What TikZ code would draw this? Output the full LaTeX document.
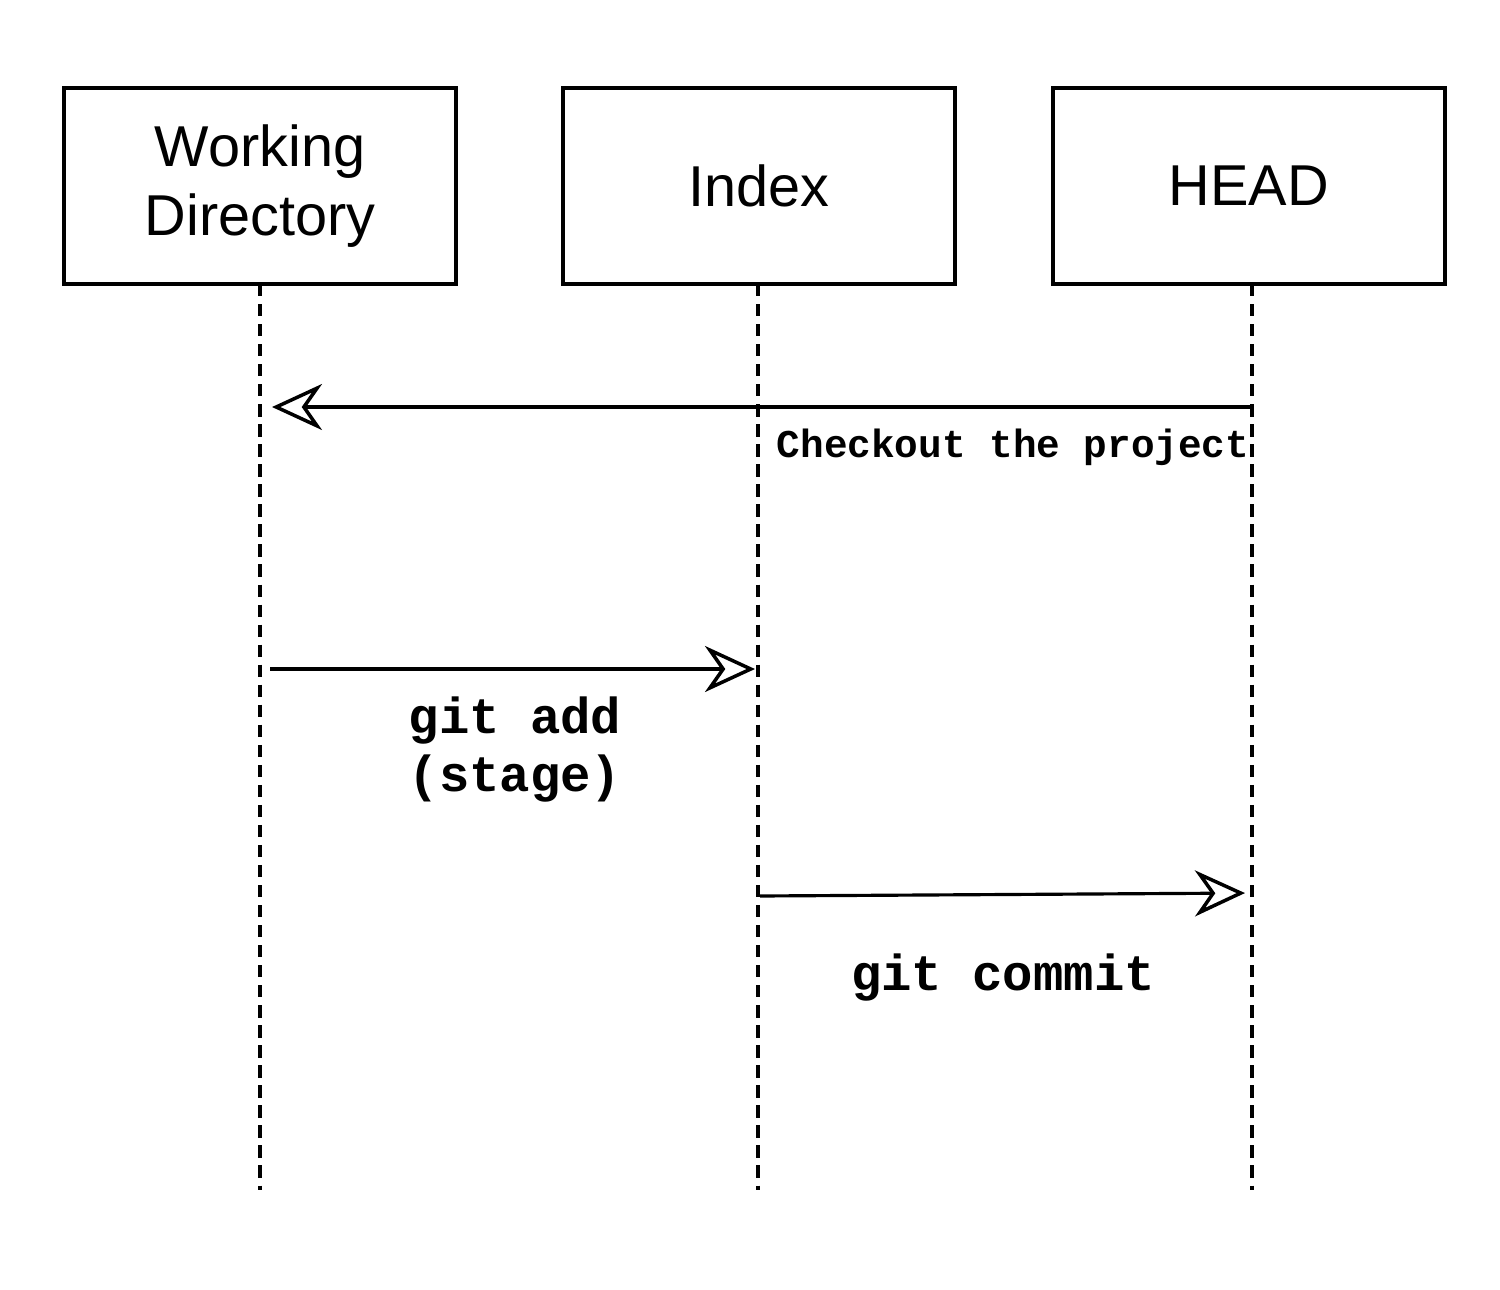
\documentclass[tikz,border=0pt]{standalone}
\usepackage{fontspec}
\setmainfont{Liberation Sans}
\newfontfamily\codefont{Liberation Mono}
\usetikzlibrary{arrows.meta}
\usetikzlibrary{positioning}
\tikzstyle{lane}=[rectangle,draw,line width=0.9pt,minimum width=3.92cm,minimum height=1.96cm,inner sep=0pt,align=center,font=\fontsize{16.4}{19.4}\selectfont]
\tikzstyle{lifeline}=[draw,line width=0.9pt,dash pattern=on 3.5pt off 2.2pt]
\tikzstyle{msg}=[draw,line width=0.9pt,-{Stealth[open,length=5mm,width=4.6mm,inset=1.6mm,line width=1pt]}]
\tikzstyle{msglabel}=[font=\codefont\bfseries\fontsize{14.4}{16.5}\selectfont,align=center,inner sep=0pt]
\tikzstyle{smalllabel}=[font=\codefont\bfseries\fontsize{11.2}{13}\selectfont,inner sep=0pt]

\begin{document}
\begin{tikzpicture}
    \useasboundingbox (0,0) rectangle (15,-12.89);

    \foreach \pos/\name/\label in {{(2.60,-1.86)/wd/Working\\Directory}, {(7.59,-1.86)/idx/Index}, {(12.49,-1.86)/head/HEAD}}
        \node[lane] (\name) at \pos {\label};

    % lifelines
    \foreach \name/\x in {wd/2.60, idx/7.58, head/12.52} {
        \coordinate (\name-top) at (\x,-2.84);
        \coordinate (\name-end) at (\x,-11.90);
        \path[lifeline] (\name-top) -- (\name-end);
    }

    % message end points
    \foreach \name/\lane/\y in {chkA/head/-4.07, chkB/wd/-4.07, addA/wd/-6.69, addB/idx/-6.69, comA/idx/-8.96, comB/head/-8.93}
        \coordinate (\name) at (\lane-top |- 0,\y);

    \path[msg,shorten >=1.2mm] (chkA) -- (chkB);
    \path[msg,shorten <=1mm,shorten >=0.3mm] (addA) -- (addB);
    \path[msg,shorten <=0.2mm,shorten >=0.7mm] (comA) -- (comB);

    \node[smalllabel,anchor=east] (chklabel) at (12.50,-4.47) {Checkout the project};
    \node[msglabel] (addlabel) at (5.15,-7.50) {git add\\(stage)};
    \node[msglabel] (comlabel) at (10.03,-9.78) {git commit};

\end{tikzpicture}
\end{document}
